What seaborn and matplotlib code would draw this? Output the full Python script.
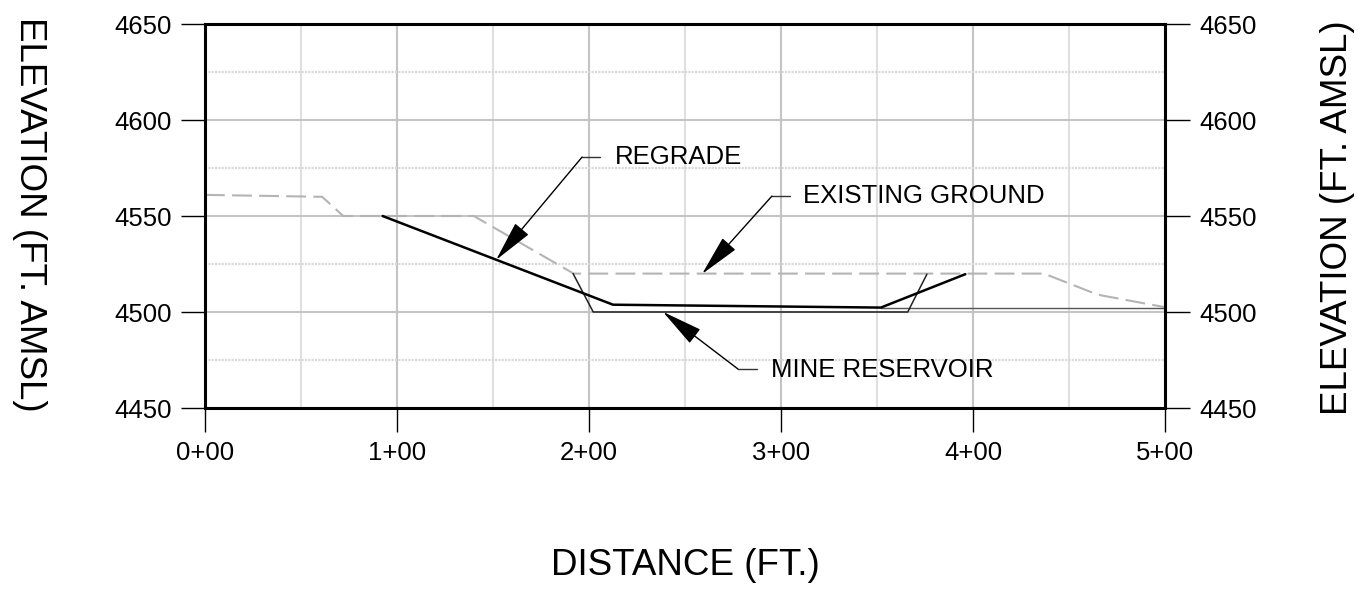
import matplotlib
matplotlib.use("Agg")
import matplotlib.pyplot as plt
from matplotlib.ticker import MultipleLocator, FixedLocator, FixedFormatter
import seaborn as sns
import pandas as pd

# ---------------- data ----------------
ground_x = [0, 61, 72, 140, 192, 437, 465, 500]
ground_y = [4561, 4560, 4550, 4550, 4520, 4520, 4509, 4502.5]

regrade_x = [92.5, 212.5, 352, 396]
regrade_y = [4550, 4503.8, 4502.3, 4519.7]

reservoir_x = [191.7, 202.2, 366, 376]
reservoir_y = [4520, 4500, 4500, 4519.7]

water_x = [352, 500]
water_y = [4502.2, 4502.2]

x_ticks = [0, 100, 200, 300, 400, 500]
x_tick_labels = ["0+00", "1+00", "2+00", "3+00", "4+00", "5+00"]
y_ticks = [4450, 4500, 4550, 4600, 4650]

labels = ["REGRADE", "EXISTING GROUND", "MINE RESERVOIR"]
label_tips = [(151.6, 4527.1), (258.9, 4519.8), (238.5, 4500.1)]
label_elbows = [(196.4, 4580.7), (295.3, 4560.4), (277.6, 4470.3)]
label_stub_ends = [205.7, 304.7, 287.5]
label_text_pos = [(213.5, 4580.5), (311.5, 4560.4), (294.8, 4470.0)]

# ---------------- style ----------------
sns.set_style("white")
plt.rcParams["font.family"] = ["Liberation Sans", "DejaVu Sans"]
plt.rcParams["text.color"] = "black"
plt.rcParams["axes.labelcolor"] = "black"
plt.rcParams["xtick.color"] = "black"
plt.rcParams["ytick.color"] = "black"

fig = plt.figure(figsize=(13.59, 5.9), dpi=100)
ax = fig.add_axes([205 / 1359, 1 - 408 / 590, 960 / 1359, 384 / 590])

ax.set_xlim(0, 500)
ax.set_ylim(4450, 4650)

# grid
ax.xaxis.set_major_locator(FixedLocator(x_ticks))
ax.xaxis.set_major_formatter(FixedFormatter(x_tick_labels))
ax.xaxis.set_minor_locator(MultipleLocator(50))
ax.yaxis.set_major_locator(FixedLocator(y_ticks))
ax.yaxis.set_minor_locator(MultipleLocator(25))
ax.set_axisbelow(True)
ax.grid(which="major", axis="both", color="#c4c4c4", lw=1.5, ls="-")
ax.grid(which="minor", axis="x", color="#e0e0e0", lw=1.5, ls="-")
ax.grid(which="minor", axis="y", color="#d8d8d8", lw=1.5, ls=(0, (1, 0.6)))

# series
sns.lineplot(x=ground_x, y=ground_y, ax=ax, sort=False, estimator=None,
             color="#b4b4b4", lw=1.5, linestyle=(0, (9.5, 3.5)))
sns.lineplot(x=water_x, y=water_y, ax=ax, sort=False, estimator=None,
             color="#555555", lw=1.0)
sns.lineplot(x=reservoir_x, y=reservoir_y, ax=ax, sort=False, estimator=None,
             color="#222222", lw=1.1)
sns.lineplot(x=regrade_x, y=regrade_y, ax=ax, sort=False, estimator=None,
             color="black", lw=1.8)

# annotations
for lab, tip, elb, stub, tpos in zip(labels, label_tips, label_elbows,
                                     label_stub_ends, label_text_pos):
    ax.annotate("", xy=tip, xytext=elb,
                arrowprops=dict(arrowstyle="-|>,head_length=2.6,head_width=0.55",
                                mutation_scale=10, lw=1, color="black",
                                shrinkA=0, shrinkB=0))
    ax.plot([elb[0], stub], [elb[1], elb[1]], color="#333333", lw=1)
    ax.text(tpos[0], tpos[1], lab, fontsize=18.5, ha="left", va="center",
            color="black")

# spines
for s in ax.spines.values():
    s.set_visible(True)
    s.set_color("black")
    s.set_linewidth(2.2)

ax.tick_params(which="major", direction="out", length=17, width=1,
               color="black", labelcolor="black", pad=7, labelsize=18.5,
               bottom=True, left=True)
ax.tick_params(which="minor", length=0)

ax.set_xlabel("DISTANCE (FT.)", fontsize=26.5, color="black")
ax.xaxis.set_label_coords(0.5, -0.411)
ax.xaxis.label.set_va("center")
ax.set_ylabel("ELEVATION (FT. AMSL)", fontsize=26.5, rotation=270,
              va="center", ha="center", color="black")
ax.yaxis.set_label_coords(-0.183, 0.505)

ax2 = ax.twinx()
ax2.set_ylim(4450, 4650)
ax2.yaxis.set_major_locator(FixedLocator(y_ticks))
ax2.tick_params(which="major", direction="out", length=18, width=1,
                color="black", labelcolor="black", pad=6.5, labelsize=18.5,
                right=True)
for s in ax2.spines.values():
    s.set_visible(False)
ax2.set_ylabel("ELEVATION (FT. AMSL)", fontsize=26.5, rotation=90,
               va="center", ha="center", color="black")
ax2.yaxis.set_label_coords(1.180, 0.495)

fig.savefig("out.png", dpi=100)
